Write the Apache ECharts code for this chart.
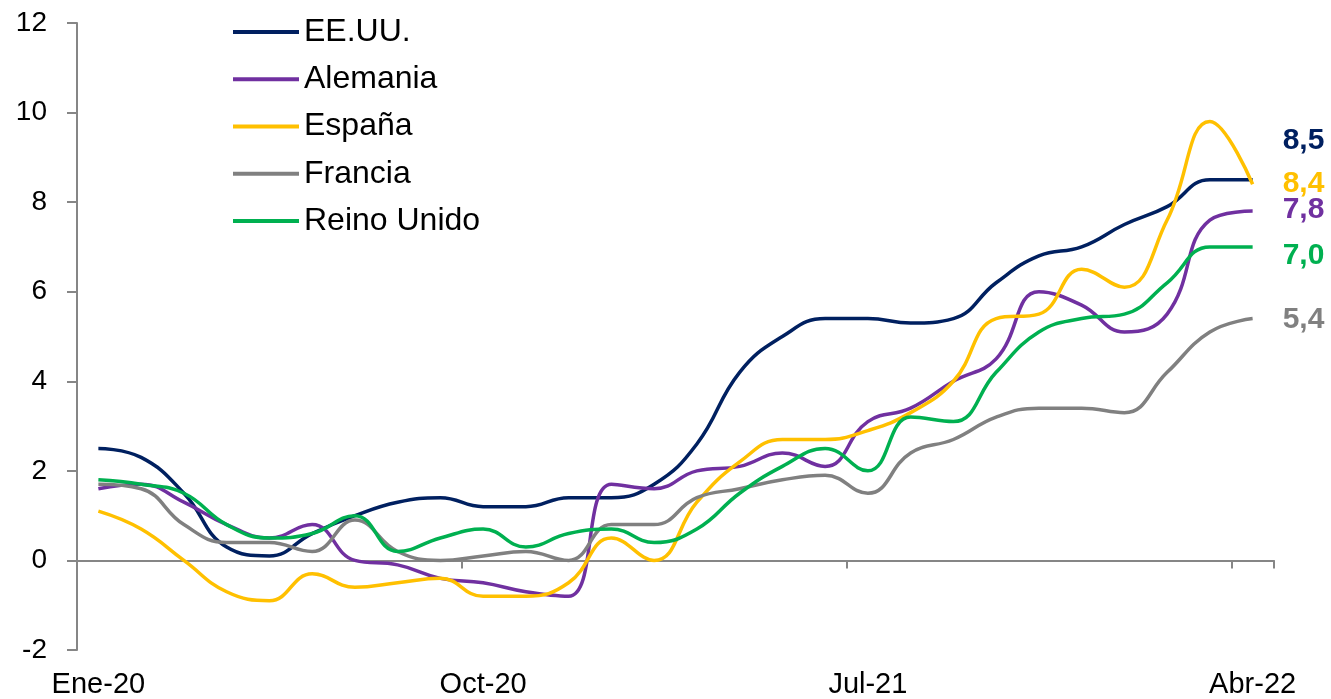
<!DOCTYPE html>
<html>
<head>
<meta charset="utf-8">
<script src="https://cdn.jsdelivr.net/npm/echarts@6/dist/echarts.min.js"></script>
<style>
  html, body { margin: 0; padding: 0; background: #fff; }
  #chart { width: 1331px; height: 699px; }
</style>
</head>
<body>
<div id="chart"></div>
<script>
var meses = ['Ene-20','Feb-20','Mar-20','Abr-20','May-20','Jun-20','Jul-20','Ago-20','Sep-20','Oct-20','Nov-20','Dic-20',
             'Ene-21','Feb-21','Mar-21','Abr-21','May-21','Jun-21','Jul-21','Ago-21','Sep-21','Oct-21','Nov-21','Dic-21',
             'Ene-22','Feb-22','Mar-22','Abr-22'];
var eeuu     = [2.5,2.3,1.5,0.3,0.1,0.6,1.0,1.3,1.4,1.2,1.2,1.4,1.4,1.7,2.6,4.2,5.0,5.4,5.4,5.3,5.4,6.2,6.8,7.0,7.5,7.9,8.5,8.5];
var alemania = [1.6,1.7,1.3,0.8,0.5,0.8,0.0,-0.1,-0.4,-0.5,-0.7,-0.8,1.7,1.6,2.0,2.1,2.4,2.1,3.1,3.4,4.0,4.5,6.0,5.7,5.1,5.5,7.6,7.8];
var espana   = [1.1,0.7,0.0,-0.7,-0.9,-0.3,-0.6,-0.5,-0.4,-0.8,-0.8,-0.5,0.5,0.0,1.3,2.2,2.7,2.7,2.9,3.3,4.0,5.4,5.5,6.5,6.1,7.6,9.8,8.4];
var francia  = [1.7,1.6,0.8,0.4,0.4,0.2,0.9,0.2,0.0,0.1,0.2,0.0,0.8,0.8,1.4,1.6,1.8,1.9,1.5,2.4,2.7,3.2,3.4,3.4,3.3,4.2,5.1,5.4];
var reinoUnido = [1.8,1.7,1.5,0.8,0.5,0.6,1.0,0.2,0.5,0.7,0.3,0.6,0.7,0.4,0.7,1.5,2.1,2.5,2.0,3.2,3.1,4.2,5.1,5.4,5.5,6.2,7.0,7.0];

var nombres = ['EE.UU.','Alemania','España','Francia','Reino Unido'];
var datos   = [eeuu, alemania, espana, francia, reinoUnido];
var colores = ['#002060','#7030A0','#FFC000','#808080','#00B050'];
// desplazamiento vertical de la etiqueta final
var dyEtiqueta = [-39, -1, 0, 1, 9];

var ejeGris = '#868686';

function serie(i){
  return {
    name: nombres[i],
    type: 'line',
    data: datos[i],
    smooth: 0.45,
    showSymbol: false,
    symbol: 'none',
    lineStyle: { width: 3.5, color: colores[i] },
    itemStyle: { color: colores[i] },
    endLabel: {
      show: true,
      distance: 0,
      offset: [30, dyEtiqueta[i]],
      color: colores[i],
      fontFamily: 'Liberation Sans',
      fontWeight: 'bold',
      fontSize: 30,
      formatter: function(p){ return p.value.toFixed(1).replace('.', ','); }
    }
  };
}

var el = echarts.init(document.getElementById('chart'));
var series = [];
for (var i = 0; i < nombres.length; i++) series.push(serie(i));

el.setOption({
  animation: false,
  textStyle: { fontFamily: 'Liberation Sans' },
  grid: { left: 77, right: 57, top: 23, bottom: 48 },
  legend: {
    orient: 'vertical',
    left: 228,
    top: 11,
    icon: 'rect',
    itemWidth: 66,
    itemHeight: 4,
    itemGap: 15.25,
    textStyle: { fontSize: 32, lineHeight: 32, color: '#000', fontFamily: 'Liberation Sans' },
    data: nombres
  },
  xAxis: [
    {
      type: 'category',
      data: meses,
      boundaryGap: true,
      axisLine: { show: false, onZero: false },
      axisTick: { show: false },
      axisLabel: { interval: 8, fontSize: 29, color: '#000', margin: 20 }
    },
    {
      type: 'category',
      data: meses,
      boundaryGap: true,
      position: 'bottom',
      axisLine: { show: true, onZero: true, lineStyle: { color: ejeGris, width: 2 } },
      axisTick: { show: true, interval: 8, length: 8, lineStyle: { color: ejeGris, width: 2 } },
      axisLabel: { show: false }
    }
  ],
  yAxis: {
    type: 'value',
    min: -2,
    max: 12,
    interval: 2,
    axisLine: { show: true, lineStyle: { color: ejeGris, width: 2 } },
    axisTick: { show: true, length: 10, lineStyle: { color: ejeGris, width: 2 } },
    splitLine: { show: false },
    axisLabel: { fontSize: 28, color: '#000', margin: 30 }
  },
  series: series
});
</script>
</body>
</html>
